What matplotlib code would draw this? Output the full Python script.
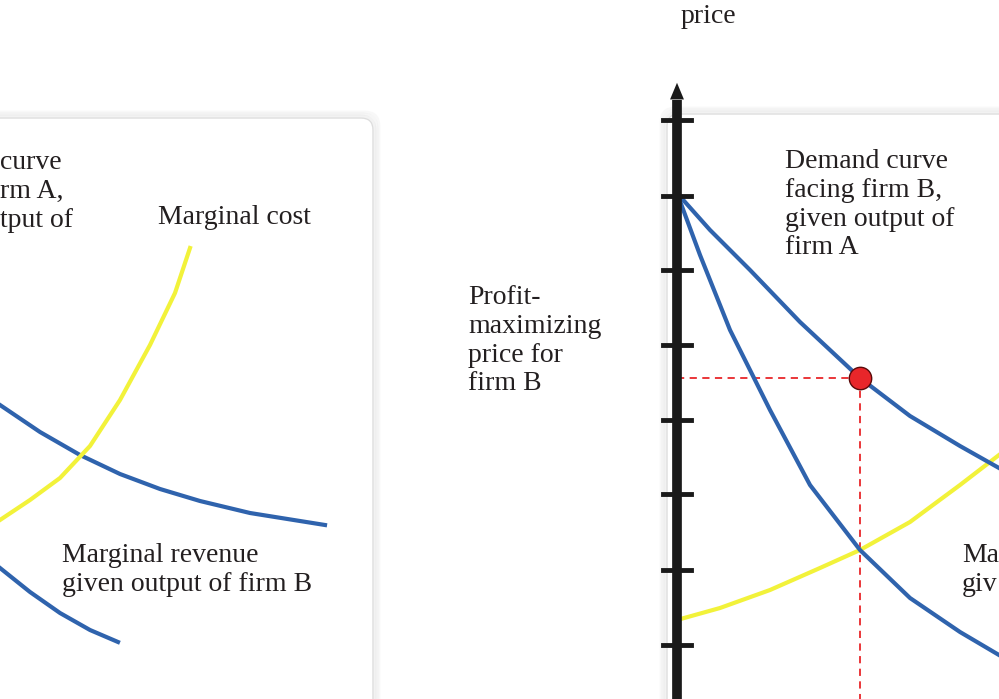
import matplotlib.pyplot as plt
from matplotlib.patches import FancyBboxPatch

# curves in picture pixel coordinates (x right, y down)
demand_a_x = [0, 40, 80, 120, 160, 200, 250, 325]
demand_a_y = [405, 432, 455, 474, 489, 501, 513, 525]
mr_b_x = [0, 30, 60, 90, 118]
mr_b_y = [568, 592, 613, 630, 642]
mc_a_x = [0, 30, 60, 90, 120, 150, 175, 190]
mc_a_y = [520, 500, 478, 446, 400, 345, 293, 248]

demand_b_x = [677, 710, 750, 800, 860, 910, 960, 999]
demand_b_y = [193, 230, 270, 322, 378, 416, 446, 468]
mr_b2_x = [677, 700, 730, 770, 810, 860, 910, 960, 999]
mr_b2_y = [193, 255, 330, 410, 485, 550, 598, 632, 655]
mc_b_x = [677, 720, 770, 820, 860, 910, 960, 999]
mc_b_y = [620, 608, 590, 568, 550, 522, 485, 455]

tick_y = [120, 196, 270, 345, 420, 494, 570, 645]
opt_x, opt_y = 860, 378

blue = '#2f63ad'
yellow = '#f2f23a'
red = '#e8262a'

plt.rcParams['font.family'] = ['Liberation Serif', 'DejaVu Serif']
fig = plt.figure(figsize=(9.99, 6.99), dpi=100)
ax = fig.add_axes([0, 0, 1, 1])
ax.set_xlim(0, 999)
ax.set_ylim(699, 0)
ax.axis('off')

for x0, y0, w in [(-40, 118, 413), (667, 114, 380)]:
    for k, a in [(6, 0.05), (4, 0.07), (2, 0.1)]:
        ax.add_patch(FancyBboxPatch((x0 - k, y0 - k), w + 2 * k, 700, boxstyle='round,pad=0,rounding_size=14',
                                    fc='none', ec='#888888', lw=2, alpha=a))
    ax.add_patch(FancyBboxPatch((x0, y0), w, 700, boxstyle='round,pad=0,rounding_size=12',
                                fc='white', ec='#dddddd', lw=1))

ax.plot(demand_a_x, demand_a_y, color=blue, lw=3)
ax.plot(mr_b_x, mr_b_y, color=blue, lw=3)
ax.plot(mc_a_x, mc_a_y, color=yellow, lw=3)

ax.plot([677, opt_x], [opt_y, opt_y], color=red, lw=1.3, ls=(0, (4, 3)))
ax.plot([opt_x, opt_x], [opt_y, 699], color=red, lw=1.3, ls=(0, (4, 3)))
ax.plot(mc_b_x, mc_b_y, color=yellow, lw=3)
ax.plot(demand_b_x, demand_b_y, color=blue, lw=3)
ax.plot(mr_b2_x, mr_b2_y, color=blue, lw=3)
ax.scatter([opt_x], [opt_y], s=260, color=red, ec='#5a0a0a', lw=1, zorder=5)

# price axis
ax.plot([677, 677], [100, 699], color='#1a1a1a', lw=7, solid_capstyle='butt')
ax.annotate('', xy=(677, 80), xytext=(677, 105),
            arrowprops=dict(arrowstyle='-|>,head_width=0.5,head_length=1.2', color='#1a1a1a', lw=0))
for ty in tick_y:
    ax.plot([663, 691], [ty, ty], color='#1a1a1a', lw=3.5)

fs = 20
txt = dict(fontsize=fs, color='#231f20', va='top', linespacing=1.2)
ax.text(0, 150, 'curve\nrm A,\ntput of', **txt)
ax.text(158, 205, 'Marginal cost', **txt)
ax.text(62, 543, 'Marginal revenue\ngiven output of firm B', **txt)
ax.text(708, 4, 'price', ha='center', **txt)
ax.text(785, 149, 'Demand curve\nfacing firm B,\ngiven output of\nfirm A', **txt)
ax.text(468, 285, 'Profit-\nmaximizing\nprice for\nfirm B', **txt)
ax.text(962, 543, 'Ma\ngiv', **txt)

fig.savefig('out.png', dpi=100)
